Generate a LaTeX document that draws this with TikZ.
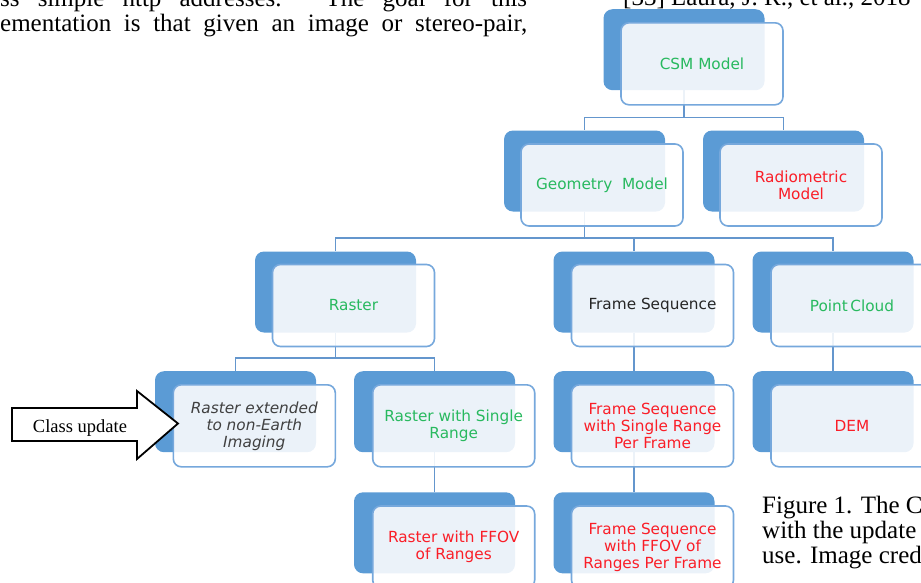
\documentclass[tikz,border=0pt]{standalone}
\usepackage{fontspec}
\setmainfont{Liberation Serif}
\newfontfamily\boxfont{DejaVu Sans}
\usetikzlibrary{backgrounds}
\definecolor{backblue}{RGB}{91,155,213}
\definecolor{edgeblue}{RGB}{118,168,220}
\definecolor{linkblue}{RGB}{100,150,205}
\definecolor{txtgreen}{RGB}{40,185,95}
\definecolor{txtred}{RGB}{250,30,40}
\definecolor{txtdark}{RGB}{38,38,38}
\definecolor{txtgray}{RGB}{64,64,64}
\begin{document}
\begin{tikzpicture}[x=1pt,y=-1pt,
  backbox/.style={rectangle, rounded corners=9pt, fill=backblue, minimum width=161pt, minimum height=81pt, inner sep=0pt},
  frontbox/.style={rectangle, rounded corners=8pt, draw=edgeblue, line width=1.6pt, fill=white, fill opacity=0.88, text opacity=1, minimum width=162pt, minimum height=82pt, inner sep=0pt, align=center, font=\boxfont\fontsize{15.3}{17}\selectfont},
  conn/.style={draw=linkblue, line width=1.8pt},
  serif/.style={inner sep=0pt, font=\fontsize{25}{25}\selectfont},
  blockarrow/.style={draw=black, line width=1.8pt, fill=white, line join=miter}
]
\useasboundingbox (0,0) rectangle (921,582);
\clip (0,0) rectangle (921,582);

% body text (cut by the crop, as in the reference)
\node[serif, anchor=base west] (line1) at (0,6) {\makebox[527pt][s]{ss simple http addresses. The goal for this}};
\node[serif, anchor=base west] (line2) at (0,31.5) {\makebox[527pt][s]{ementation is that given an image or stereo-pair,}};
\node[serif, anchor=base west] (refline) at (623,5) {[33] Laura, J. R., et al., 2018};
\node[serif, anchor=base west] (cap1) at (762,513) {Figure 1. The C};
\node[serif, anchor=base west] (cap2) at (762,538) {with the update};
\node[serif, anchor=base west] (cap3) at (762,563) {use. Image cred};

% level 1
\node[backbox] (csmB) at (684,49.7) {};
\node[frontbox, text=txtgreen] (csm) at (702,63.8) {CSM Model};
% level 2
\node[backbox] (geoB) at (584.5,171) {};
\node[frontbox, text=txtgreen] (geo) at (602,185) {Geometry\ \ Model};
\node[backbox] (radB) at (783.5,171) {};
\node[frontbox, text=txtred] (rad) at (801,185) {Radiometric\\Model};
% level 3
\node[backbox] (rasB) at (335.5,292) {};
\node[frontbox, text=txtgreen] (ras) at (353.5,305.5) {Raster};
\node[backbox] (fsB) at (634,292) {};
\node[frontbox, text=txtdark] (fs) at (652.5,305.5) {Frame Sequence};
\node[backbox] (pcB) at (833,292) {};
\node[frontbox, text=txtgreen] (pc) at (852,305.5) {Point\,Cloud};
% level 4
\node[backbox] (rneB) at (235.5,411.7) {};
\node[frontbox, text=txtgray, font=\boxfont\itshape\fontsize{15.3}{17}\selectfont] (rne) at (254.3,425.8) {Raster extended\\to non-Earth\\Imaging};
\node[backbox] (rsrB) at (434.5,411.7) {};
\node[frontbox, text=txtgreen] (rsr) at (453.7,425.8) {Raster with Single\\Range};
\node[backbox] (fssB) at (634,411.7) {};
\node[frontbox, text=txtred] (fss) at (652.5,425.8) {Frame Sequence\\with Single Range\\Per Frame};
\node[backbox] (demB) at (833,411.7) {};
\node[frontbox, text=txtred] (dem) at (852,425.8) {DEM};
% level 5
\node[backbox] (rffB) at (434.5,532.8) {};
\node[frontbox, text=txtred] (rff) at (453.7,547) {Raster with FFOV\\of Ranges};
\node[backbox] (fsfB) at (634,532.8) {};
\node[frontbox, text=txtred] (fsf) at (652.5,547) {Frame Sequence\\with FFOV of\\Ranges Per Frame};

% connectors
\begin{scope}[on background layer]
\draw[conn] (csmB.south) -- ++(0,27) -| (geoB.north);
\draw[conn] (csmB.south) -- ++(0,27) -| (radB.north);
\draw[conn] (geoB.south) -- ++(0,26) -| (rasB.north);
\draw[conn] (geoB.south) -- ++(0,26) -| (fsB.north);
\draw[conn] (geoB.south) -- ++(0,26) -| (pcB.north);
\draw[conn] (rasB.south) -- ++(0,25) -| (rneB.north);
\draw[conn] (rasB.south) -- ++(0,25) -| (rsrB.north);
\draw[conn] (fsB.south) -- (fssB.north);
\draw[conn] (pcB.south) -- (demB.north);
\draw[conn] (rsrB.south) -- (rffB.north);
\draw[conn] (fssB.south) -- (fsfB.north);
\end{scope}

% class update arrow
\draw[blockarrow] (12,408) -- (137,408) -- (137,391) -- (178,423.5) -- (137,459) -- (137,441) -- (12,441) -- cycle;
\node[inner sep=0pt, anchor=base, font=\fontsize{18.5}{18.5}\selectfont] (cu) at (80,432) {Class update};
\end{tikzpicture}
\end{document}
